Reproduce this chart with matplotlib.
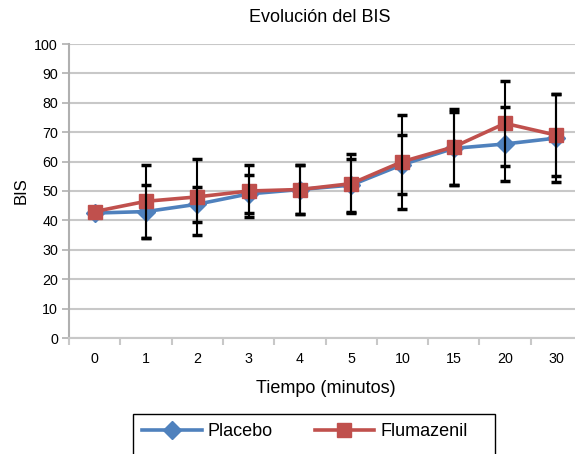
import matplotlib
matplotlib.use("Agg")
import matplotlib.pyplot as plt
from matplotlib.patches import Rectangle
import numpy as np

categories = ["0", "1", "2", "3", "4", "5", "10", "15", "20", "30"]
placebo = [42.5, 43, 45.5, 49, 50.5, 52, 59, 64.5, 66, 68]
placebo_sd = [0, 9, 6, 6.4, 8.3, 9, 10, 12.5, 12.5, 15]
fluma = [43, 46.5, 48, 50, 50.5, 52.5, 60, 65, 73, 69]
fluma_sd = [0, 12.5, 13, 9, 8.3, 10, 16, 13, 14.5, 14]
yticks = list(range(0, 101, 10))

plt.rcParams['font.family'] = ['Liberation Sans', 'DejaVu Sans']

fig = plt.figure(figsize=(5.75, 4.54), dpi=100)
ax = fig.add_axes([69/575, 1-338/454, 513/575, (338-44)/454])

x = np.arange(len(categories))
blue = '#4F81BD'
red = '#C0504D'

ax.plot(x, placebo, color=blue, lw=2.6, marker='D', ms=9, mfc=blue, mec=blue, zorder=3, label='Placebo')
ax.plot(x, fluma, color=red, lw=2.6, marker='s', ms=10, mfc=red, mec=red, zorder=3.5, label='Flumazenil')

for vals, sds in ((placebo, placebo_sd), (fluma, fluma_sd)):
    idx = [i for i, s in enumerate(sds) if s > 0]
    ax.errorbar(x[idx], [vals[i] for i in idx], yerr=[sds[i] for i in idx], fmt='none',
                ecolor='black', elinewidth=1.5, capsize=3.5, capthick=2.5, zorder=4)

ax.set_xlim(-0.5, len(categories) - 0.5)
ax.set_ylim(0, 100)
ax.set_yticks(yticks)
ax.set_yticklabels([str(v) for v in yticks], fontsize=10.3)
ax.yaxis.grid(True, color='#c8c8c8', lw=1.5, zorder=0)
ax.set_axisbelow(True)

ax.set_xticks(x)
ax.set_xticklabels(categories, fontsize=10.3)
ax.set_xticks(np.arange(-0.5, len(categories) - 0.4, 1), minor=True)
ax.tick_params(axis='x', which='major', length=0, pad=10)
ax.tick_params(axis='x', which='minor', length=5, color='#c8c8c8', width=1.5, direction='out')
ax.tick_params(axis='y', length=5, color='#b0b0b0', width=1.2, pad=3)

for s in ['top', 'right']:
    ax.spines[s].set_visible(False)
ax.spines['left'].set_color('#b0b0b0')
ax.spines['left'].set_linewidth(1.5)
ax.spines['bottom'].set_color('#c8c8c8')
ax.spines['bottom'].set_linewidth(1.5)

ax.set_ylabel('BIS', fontsize=12, labelpad=4)
ax.set_xlabel('Tiempo (minutos)', fontsize=13, labelpad=10)
fig.text(320/575, 1-18/454, 'Evolución del BIS', ha='center', va='center', fontsize=13)

fig.patches.append(Rectangle((133/575, -0.05), (495-133)/575, (1-414/454)+0.05,
                             transform=fig.transFigure, fill=False, ec='black', lw=1.0))
leg = fig.legend(loc='upper left', bbox_to_anchor=(133/575, 1-414/454), ncol=2,
                 frameon=False, fontsize=13,
                 handlelength=3.3, handletextpad=0.35, columnspacing=2.3,
                 borderpad=0.5, borderaxespad=0)

fig.savefig('out.png', dpi=100)
